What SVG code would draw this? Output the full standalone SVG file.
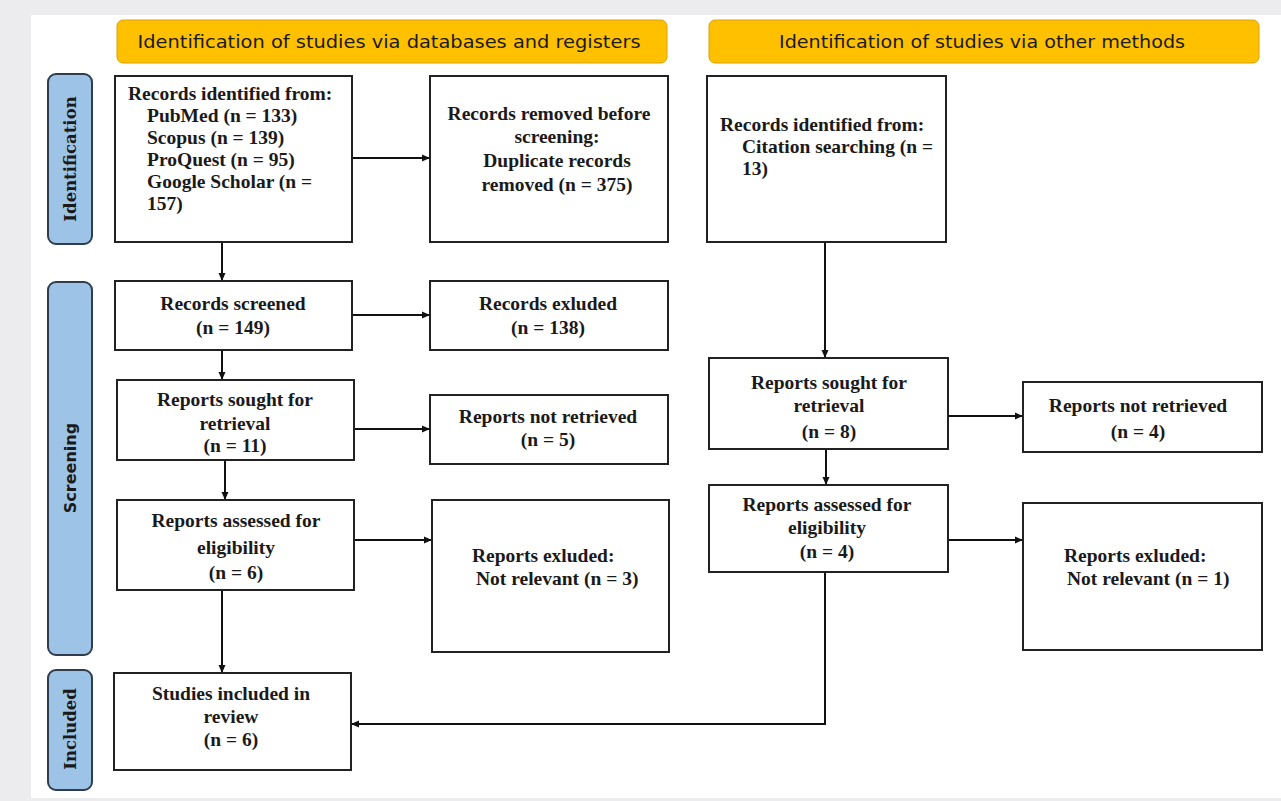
<svg xmlns="http://www.w3.org/2000/svg" width="1281" height="801" viewBox="0 0 1281 801">
<defs>
<marker id="ah" markerWidth="8" markerHeight="8" refX="7" refY="4" orient="auto" markerUnits="userSpaceOnUse">
<path d="M0,0.5 L8,4 L0,7.5 Z" fill="#111"/>
</marker>
<style>
.box{fill:#fff;stroke:#222;stroke-width:2}
.hdr{fill:#ffc000;stroke:#d9a300;stroke-width:1}
.side{fill:#9dc3e6;stroke:#2f3d4c;stroke-width:2}
.t{font-family:"Liberation Serif","Times New Roman",serif;font-weight:bold;font-size:19.5px;fill:#1a1a1a}
.c{text-anchor:middle}
.h{font-family:"DejaVu Sans","Verdana",sans-serif;font-size:18px;fill:#1a1a1a;text-anchor:middle}
.s{font-family:"DejaVu Serif","Times New Roman",serif;font-weight:bold;font-size:16.5px;fill:#1a1a1a;text-anchor:middle}
.ss{font-family:"DejaVu Sans","Verdana",sans-serif;font-weight:bold;font-size:16px;fill:#1a1a1a;text-anchor:middle}
.ln{fill:none;stroke:#111;stroke-width:2}
</style>
</defs>
<rect x="0" y="0" width="1281" height="801" fill="#ececee"/>
<rect x="31" y="15" width="1250" height="783" fill="#fff"/>

<g id="header-db"><rect class="hdr" x="117" y="20" width="550" height="43" rx="6"/><text class="h" x="389" y="48" textLength="503" lengthAdjust="spacingAndGlyphs">Identification of studies via databases and registers</text></g>
<g id="header-other"><rect class="hdr" x="709" y="20" width="550" height="43" rx="6"/><text class="h" x="982" y="48" textLength="406" lengthAdjust="spacingAndGlyphs">Identification of studies via other methods</text></g>

<g id="side-identification"><rect class="side" x="48" y="74" width="44" height="170" rx="8"/><text class="s" transform="translate(76,159) rotate(-90)">Identification</text></g>
<g id="side-screening"><rect class="side" x="48" y="282" width="44" height="373" rx="8"/><text class="ss" transform="translate(76,468) rotate(-90)">Screening</text></g>
<g id="side-included"><rect class="side" x="48" y="670" width="44" height="120" rx="8"/><text class="s" transform="translate(76,729) rotate(-90)">Included</text></g>

<g id="connectors">
<line class="ln" x1="222" y1="243" x2="222" y2="280" marker-end="url(#ah)"/>
<line class="ln" x1="353" y1="158" x2="429" y2="158" marker-end="url(#ah)"/>
<line class="ln" x1="353" y1="315" x2="429" y2="315" marker-end="url(#ah)"/>
<line class="ln" x1="222" y1="351" x2="222" y2="379" marker-end="url(#ah)"/>
<line class="ln" x1="355" y1="429" x2="429" y2="429" marker-end="url(#ah)"/>
<line class="ln" x1="225" y1="461" x2="225" y2="499" marker-end="url(#ah)"/>
<line class="ln" x1="355" y1="540" x2="431" y2="540" marker-end="url(#ah)"/>
<line class="ln" x1="222" y1="591" x2="222" y2="672" marker-end="url(#ah)"/>
<line class="ln" x1="825" y1="243" x2="825" y2="357" marker-end="url(#ah)"/>
<line class="ln" x1="949" y1="416" x2="1022" y2="416" marker-end="url(#ah)"/>
<line class="ln" x1="826" y1="450" x2="826" y2="484" marker-end="url(#ah)"/>
<line class="ln" x1="947" y1="540" x2="1022" y2="540" marker-end="url(#ah)"/>
<polyline class="ln" points="825,573 825,724 352,724" marker-end="url(#ah)"/>
</g>

<g id="records-identified-db"><rect class="box" x="115" y="76" width="237" height="166"/>
<text class="t" x="128" y="100">Records identified from:</text>
<text class="t" x="147" y="122">PubMed (n = 133)</text>
<text class="t" x="147" y="144">Scopus (n = 139)</text>
<text class="t" x="147" y="166">ProQuest (n = 95)</text>
<text class="t" x="147" y="188">Google Scholar (n =</text>
<text class="t" x="147" y="210">157)</text></g>

<g id="records-removed"><rect class="box" x="430" y="76" width="238" height="166"/>
<text class="t c" x="549" y="120">Records removed before</text>
<text class="t c" x="557" y="143">screening:</text>
<text class="t c" x="557" y="167">Duplicate records</text>
<text class="t c" x="557" y="191">removed (n = 375)</text></g>

<g id="records-identified-other"><rect class="box" x="707" y="76" width="239" height="166"/>
<text class="t" x="720" y="131">Records identified from:</text>
<text class="t" x="742" y="153">Citation searching (n =</text>
<text class="t" x="742" y="175">13)</text></g>

<g id="records-screened"><rect class="box" x="115" y="281" width="237" height="69"/>
<text class="t c" x="233" y="310">Records screened</text>
<text class="t c" x="233" y="334">(n = 149)</text></g>

<g id="records-excluded"><rect class="box" x="430" y="281" width="238" height="69"/>
<text class="t c" x="548" y="310">Records exluded</text>
<text class="t c" x="548" y="334">(n = 138)</text></g>

<g id="reports-sought-db"><rect class="box" x="117" y="380" width="237" height="80"/>
<text class="t c" x="235" y="406">Reports sought for</text>
<text class="t c" x="235" y="430">retrieval</text>
<text class="t c" x="235" y="452">(n = 11)</text></g>

<g id="reports-not-retrieved-db"><rect class="box" x="430" y="395" width="238" height="69"/>
<text class="t c" x="548" y="423">Reports not retrieved</text>
<text class="t c" x="548" y="446">(n = 5)</text></g>

<g id="reports-assessed-db"><rect class="box" x="117" y="500" width="237" height="90"/>
<text class="t c" x="236" y="527">Reports assessed for</text>
<text class="t c" x="236" y="554">eligibility</text>
<text class="t c" x="236" y="579">(n = 6)</text></g>

<g id="reports-excluded-db"><rect class="box" x="432" y="500" width="237" height="152"/>
<text class="t" x="472" y="562">Reports exluded:</text>
<text class="t" x="476" y="585">Not relevant (n = 3)</text></g>

<g id="studies-included"><rect class="box" x="114" y="673" width="237" height="97"/>
<text class="t c" x="231" y="700">Studies included in</text>
<text class="t c" x="231" y="723">review</text>
<text class="t c" x="231" y="746">(n = 6)</text></g>

<g id="reports-sought-other"><rect class="box" x="709" y="358" width="239" height="91"/>
<text class="t c" x="829" y="389">Reports sought for</text>
<text class="t c" x="829" y="412">retrieval</text>
<text class="t c" x="829" y="438">(n = 8)</text></g>

<g id="reports-not-retrieved-other"><rect class="box" x="1023" y="382" width="239" height="70"/>
<text class="t c" x="1138" y="412">Reports not retrieved</text>
<text class="t c" x="1138" y="438">(n = 4)</text></g>

<g id="reports-assessed-other"><rect class="box" x="709" y="485" width="239" height="87"/>
<text class="t c" x="827" y="511">Reports assessed for</text>
<text class="t c" x="827" y="534">eligibility</text>
<text class="t c" x="827" y="558">(n = 4)</text></g>

<g id="reports-excluded-other"><rect class="box" x="1023" y="503" width="239" height="147"/>
<text class="t" x="1064" y="562">Reports exluded:</text>
<text class="t" x="1067" y="585">Not relevant (n = 1)</text></g>
</svg>
